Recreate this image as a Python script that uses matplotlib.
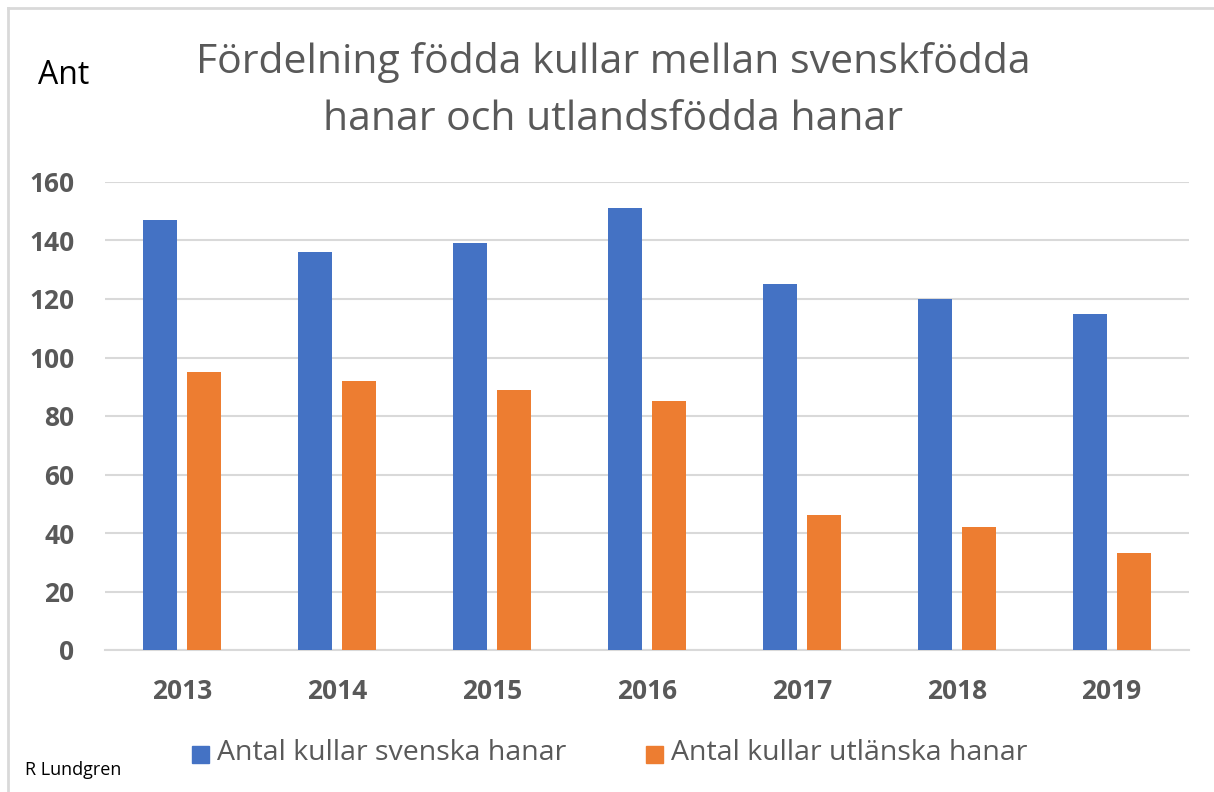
import matplotlib
matplotlib.use("Agg")
import matplotlib.pyplot as plt
from matplotlib.patches import Rectangle
from matplotlib.lines import Line2D
import numpy as np

years = ["2013", "2014", "2015", "2016", "2017", "2018", "2019"]
svenska = [147, 136, 139, 151, 125, 120, 115]
utlanska = [95, 92, 89, 85, 46, 42, 33]
series_labels = ["Antal kullar svenska hanar", "Antal kullar utlänska hanar"]
title = "Fördelning födda kullar mellan svenskfödda\nhanar och utlandsfödda hanar"
yticks = [0, 20, 40, 60, 80, 100, 120, 140, 160]

BLUE = "#4472C4"
ORANGE = "#ED7D31"
GRID = "#D9D9D9"
TXT = "#595959"
FONT = ["Open Sans", "DejaVu Sans"]

plt.rcParams["font.family"] = FONT

W, H = 1214, 792
fig = plt.figure(figsize=(W / 100, H / 100), dpi=100)
ax = fig.add_axes([105 / W, 1 - 650 / H, (1189 - 105) / W, (650 - 182) / H])

x = np.arange(len(years))
bw = 0.22
off = 0.142
ax.bar(x - off, svenska, width=bw, color=BLUE, zorder=3)
ax.bar(x + off, utlanska, width=bw, color=ORANGE, zorder=3)

ax.set_xlim(-0.5, len(years) - 0.5)
ax.set_ylim(0, 160)
ax.set_yticks(yticks)
ax.set_xticks(x)
ax.set_xticklabels(years)
ax.yaxis.grid(True, color=GRID, linewidth=1.5, zorder=0)
ax.set_axisbelow(True)
for s in ["top", "right", "left"]:
    ax.spines[s].set_visible(False)
ax.spines["bottom"].set_color(GRID)
ax.spines["bottom"].set_linewidth(1.5)
ax.tick_params(axis="both", length=0, labelsize=19, labelcolor=TXT)
ax.tick_params(axis="y", pad=22)
ax.tick_params(axis="x", pad=20)
for lbl in ax.get_xticklabels() + ax.get_yticklabels():
    lbl.set_fontweight("bold")

fig.text(613 / W, 1 - 91 / H, title, ha="center", va="center", fontsize=29.5,
         color=TXT, linespacing=1.55)
fig.text(38 / W, 1 - 75 / H, "Ant", ha="left", va="center", fontsize=23, color="black")
fig.text(25 / W, 1 - 770 / H, "R Lundgren", ha="left", va="center", fontsize=13, color="black")

# legend
for (sx, color, label) in [(192, BLUE, series_labels[0]), (646, ORANGE, series_labels[1])]:
    fig.patches.append(Rectangle((sx / W, 1 - 763 / H), 17 / W, 17 / H,
                                 transform=fig.transFigure, color=color))
    fig.text((sx + 25) / W, 1 - 753 / H, label, ha="left", va="center",
             fontsize=20.5, color=TXT)

# chart frame (top and left border)
fig.add_artist(Line2D([8 / W, 1.0], [1 - 8 / H, 1 - 8 / H], color=GRID, linewidth=2,
                      transform=fig.transFigure))
fig.add_artist(Line2D([8 / W, 8 / W], [0, 1 - 8 / H], color=GRID, linewidth=2,
                      transform=fig.transFigure))

fig.savefig("out.png", dpi=100, facecolor="white")
